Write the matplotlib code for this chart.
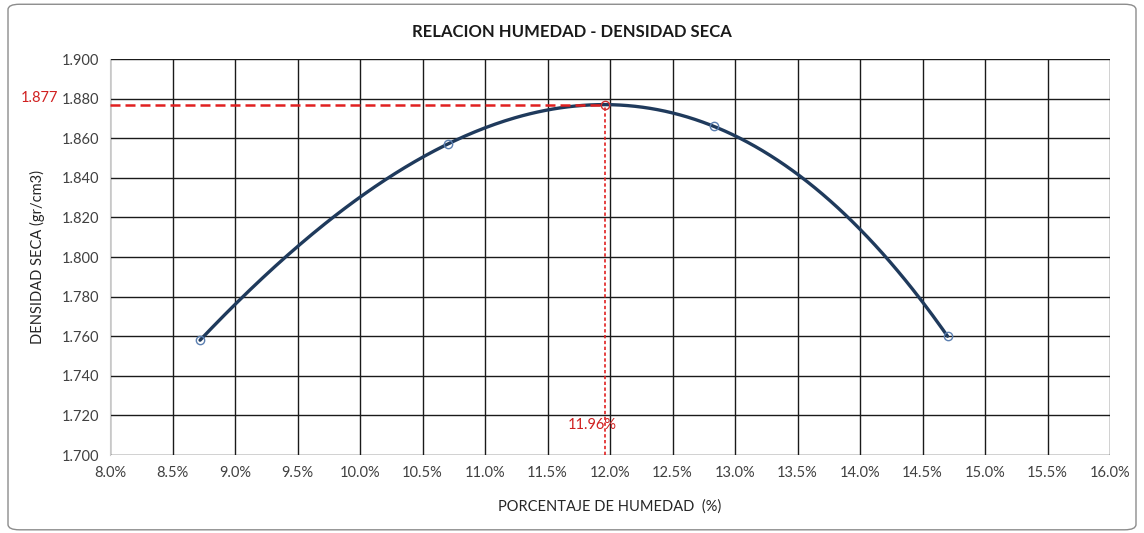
import numpy as np
import matplotlib.pyplot as plt
from matplotlib.patches import FancyBboxPatch
from matplotlib.ticker import FuncFormatter, MultipleLocator

# ---------- data ----------
humedad = [8.72, 10.70, 12.83, 14.70]          # %
densidad = [1.758, 1.857, 1.866, 1.760]        # gr/cm3
hum_opt = 11.96
dens_max = 1.877

plt.rcParams["font.family"] = ["Lato", "DejaVu Sans"]

fig = plt.figure(figsize=(11.44, 5.33), dpi=100)
ax = fig.add_axes([0.0962, 0.1463, 0.8741, 0.743])

# outer chart frame
frame = FancyBboxPatch((0.007, 0.006), 0.986, 0.986,
                       boxstyle="round,pad=0,rounding_size=0.01",
                       transform=fig.transFigure, facecolor="none",
                       edgecolor="#8c8c8c", linewidth=1.0)
fig.patches.append(frame)

# trendline (cubic, like the spreadsheet polynomial trendline)
coef = np.polyfit(humedad, densidad, 3)
xs = np.linspace(min(humedad), max(humedad), 300)
ax.plot(xs, np.polyval(coef, xs), color="#1f3a5c", linewidth=2.4, zorder=3,
        solid_capstyle="round")
ax.plot(humedad, densidad, "o", markersize=6, markerfacecolor="none",
        markeredgecolor="#5b7fb0", markeredgewidth=1.0, zorder=4)

# optimum guide lines
ax.plot([8.0, hum_opt], [dens_max, dens_max], color="#e02020",
        linestyle=(0, (4, 2)), linewidth=1.8, zorder=5)
ax.plot([hum_opt, hum_opt], [1.700, dens_max], color="#e02020",
        linestyle=(0, (2, 1.5)), linewidth=1.2, zorder=5)
ax.plot([hum_opt], [dens_max], "o", markersize=6, markerfacecolor="none",
        markeredgecolor="#d03030", markeredgewidth=1.0, zorder=6)

ax.text(-0.052, dens_max + 0.0035, f"{dens_max:.3f}", color="#d02020",
        fontsize=10.5, ha="right", va="center",
        transform=ax.get_yaxis_transform())
ax.text(hum_opt - 0.1, 1.715, f"{hum_opt:.2f}%", color="#d02020",
        fontsize=10.5, ha="center", va="center")

ax.set_xlim(8.0, 16.0)
ax.set_ylim(1.700, 1.900)
ax.xaxis.set_major_locator(MultipleLocator(0.5))
ax.yaxis.set_major_locator(MultipleLocator(0.02))
ax.xaxis.set_major_formatter(FuncFormatter(lambda v, p: f"{v:.1f}%"))
ax.yaxis.set_major_formatter(FuncFormatter(lambda v, p: f"{v:.3f}"))
ax.tick_params(length=0, labelsize=10.5, colors="#404040", pad=8)
ax.grid(True, color="#1a1a1a", linewidth=1.0)
ax.set_axisbelow(True)
for side in ["top", "right", "bottom"]:
    ax.spines[side].set_visible(False)
ax.spines["left"].set_color("#c8c8c8")

ax.set_xlabel("PORCENTAJE DE HUMEDAD  (%)", fontsize=10.5, color="#262626",
              labelpad=14)
ax.set_ylabel("DENSIDAD SECA (gr/cm3)", fontsize=10.5, color="#262626",
              labelpad=12)
fig.text(0.5, 0.94, "RELACION HUMEDAD - DENSIDAD SECA", ha="center",
         va="center", fontsize=12, fontweight="bold", color="#1a1a1a")

fig.savefig("out.png", dpi=100)
